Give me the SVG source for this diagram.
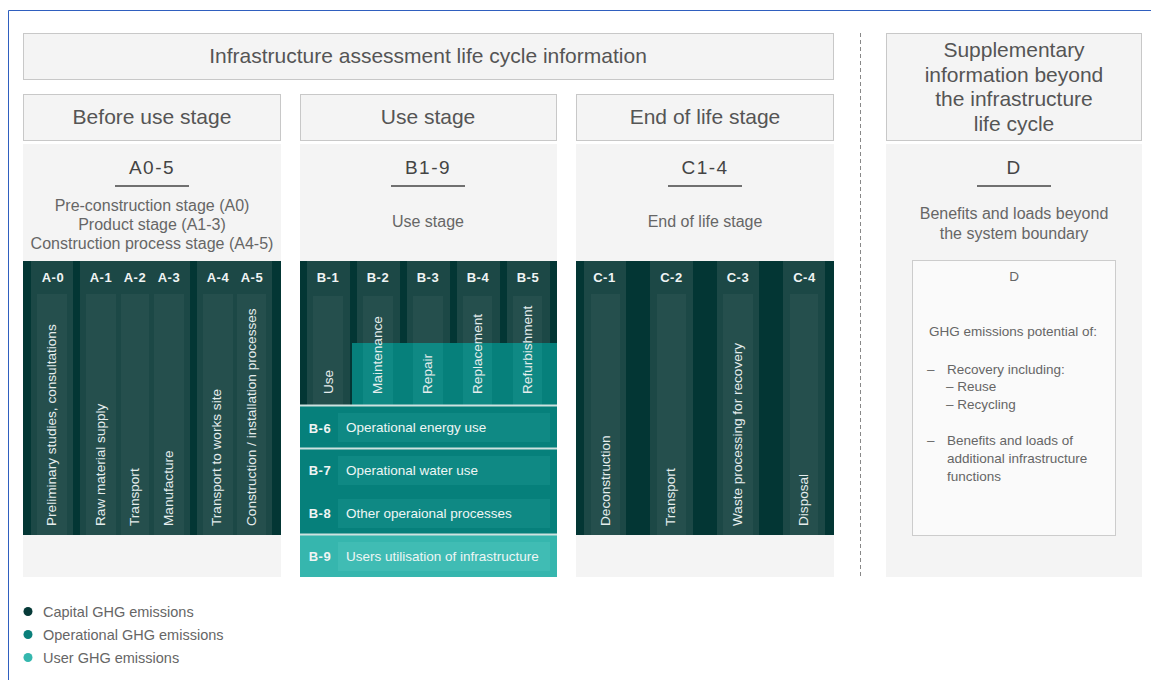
<svg xmlns="http://www.w3.org/2000/svg" width="1151" height="680" viewBox="0 0 1151 680">
<style>
text{font-family:"Liberation Sans",Arial,sans-serif}
.hdr{fill:#f4f4f4;stroke:#c8c8c8;stroke-width:1}
.ht{font-size:21px;fill:#555;text-anchor:middle}
.panel{fill:#f4f4f4}
.code{font-size:19px;fill:#444;text-anchor:middle;letter-spacing:1.5px}
.ul{stroke:#444;stroke-width:1.5}
.sub{font-size:16px;fill:#666;text-anchor:middle}
.dark{fill:#033634}
.col{fill:#1c4846}
.inn{fill:#254f4d}
.lab{font-size:13px;font-weight:bold;fill:#f0f4f4;text-anchor:middle;letter-spacing:0.6px}
.vt{font-size:13.6px;fill:#e6eded}
.teal{fill:#06807b}
.tinn{fill:#0f8984}
.lteal{fill:#36b6ae}
.ltinn{fill:#40bcb4}
.rt{font-size:13.5px;fill:#eef6f5}
.sep{stroke:#cde2e0;stroke-width:2}
.dt{font-size:13.5px;fill:#666}
.leg{font-size:14.5px;fill:#666}
</style>
<rect width="1151" height="680" fill="#ffffff"/>
<path d="M8.5,680 V10.5 H1151" fill="none" stroke="#2f5fbf" stroke-width="1"/>

<g id="header-main">
<rect class="hdr" x="23.5" y="33.5" width="810" height="46"/>
<text class="ht" x="428" y="63">Infrastructure assessment life cycle information</text>
</g>

<g id="divider">
<line x1="860.5" y1="33" x2="860.5" y2="577" stroke="#888" stroke-width="1" stroke-dasharray="4,3"/>
</g>

<g id="stage-A">
<rect class="hdr" x="23.5" y="94.5" width="257" height="46"/>
<text class="ht" x="152" y="124">Before use stage</text>
<rect class="panel" x="23" y="144" width="258" height="433"/>
<text class="code" x="152" y="174">A0-5</text>
<line class="ul" x1="115" y1="186" x2="189" y2="186"/>
<text class="sub" x="152" y="210.5">Pre-construction stage (A0)</text>
<text class="sub" x="152" y="229.5">Product stage (A1-3)</text>
<text class="sub" x="152" y="248.5">Construction process stage (A4-5)</text>
<rect class="dark" x="23" y="261" width="258" height="274"/>
<rect class="col" x="31" y="261" width="42" height="274"/>
<rect class="col" x="80" y="261" width="110" height="274"/>
<rect class="col" x="197" y="261" width="75" height="274"/>
<rect class="inn" x="37" y="294" width="30" height="241"/>
<rect class="inn" x="86" y="294" width="30" height="241"/>
<rect class="inn" x="121" y="294" width="28" height="241"/>
<rect class="inn" x="154" y="294" width="30" height="241"/>
<rect class="inn" x="203" y="294" width="30" height="241"/>
<rect class="inn" x="237" y="294" width="29" height="241"/>
<text class="lab" x="53" y="282">A-0</text>
<text class="lab" x="101" y="282">A-1</text>
<text class="lab" x="135" y="282">A-2</text>
<text class="lab" x="169" y="282">A-3</text>
<text class="lab" x="218" y="282">A-4</text>
<text class="lab" x="252" y="282">A-5</text>
<text class="vt" transform="translate(56.4,526) rotate(-90)">Preliminary studies, consultations</text>
<text class="vt" transform="translate(104.7,526) rotate(-90)">Raw material supply</text>
<text class="vt" transform="translate(139,526) rotate(-90)">Transport</text>
<text class="vt" transform="translate(173,526) rotate(-90)">Manufacture</text>
<text class="vt" transform="translate(221.4,526) rotate(-90)">Transport to works site</text>
<text class="vt" transform="translate(256.4,526) rotate(-90)">Construction / installation processes</text>
</g>

<g id="stage-B">
<rect class="hdr" x="300.5" y="94.5" width="256" height="46"/>
<text class="ht" x="428" y="124">Use stage</text>
<rect class="panel" x="300" y="144" width="257" height="433"/>
<text class="code" x="428" y="174">B1-9</text>
<line class="ul" x1="391" y1="186" x2="465" y2="186"/>
<text class="sub" x="428" y="226.5">Use stage</text>
<rect class="dark" x="300" y="261" width="257" height="145"/>
<rect class="col" x="307" y="261" width="43" height="145"/>
<rect class="col" x="357" y="261" width="43" height="145"/>
<rect class="col" x="407" y="261" width="43" height="145"/>
<rect class="col" x="457" y="261" width="43" height="145"/>
<rect class="col" x="507" y="261" width="43" height="145"/>
<rect class="inn" x="313" y="296" width="30" height="110"/>
<rect class="inn" x="363" y="296" width="30" height="110"/>
<rect class="inn" x="413" y="296" width="30" height="110"/>
<rect class="inn" x="463" y="296" width="29" height="110"/>
<rect class="inn" x="513" y="296" width="29" height="110"/>
<rect class="teal" x="352" y="343" width="205" height="63"/>
<rect class="tinn" x="363" y="343" width="30" height="63"/>
<rect class="tinn" x="413" y="343" width="30" height="63"/>
<rect class="tinn" x="463" y="343" width="29" height="63"/>
<rect class="tinn" x="513" y="343" width="29" height="63"/>
<text class="lab" x="328" y="282">B-1</text>
<text class="lab" x="378" y="282">B-2</text>
<text class="lab" x="428" y="282">B-3</text>
<text class="lab" x="478" y="282">B-4</text>
<text class="lab" x="528" y="282">B-5</text>
<text class="vt" transform="translate(333,394) rotate(-90)">Use</text>
<text class="vt" transform="translate(382.4,394) rotate(-90)">Maintenance</text>
<text class="vt" transform="translate(432.4,394) rotate(-90)">Repair</text>
<text class="vt" transform="translate(482.4,394) rotate(-90)">Replacement</text>
<text class="vt" transform="translate(532,394) rotate(-90)">Refurbishment</text>
<rect class="teal" x="300" y="406" width="257" height="129"/>
<rect class="tinn" x="338" y="413" width="212" height="29"/>
<rect class="tinn" x="338" y="456" width="212" height="29"/>
<rect class="tinn" x="338" y="499" width="212" height="29"/>
<rect class="lteal" x="300" y="535" width="257" height="42"/>
<rect class="ltinn" x="338" y="542" width="212" height="29"/>
<line class="sep" x1="300" y1="405.5" x2="557" y2="405.5"/>
<line class="sep" x1="300" y1="448.5" x2="557" y2="448.5"/>
<line class="sep" x1="300" y1="534.5" x2="557" y2="534.5"/>
<text class="lab" x="320" y="432.5">B-6</text>
<text class="rt" x="346" y="432">Operational energy use</text>
<text class="lab" x="320" y="475">B-7</text>
<text class="rt" x="346" y="474.5">Operational water use</text>
<text class="lab" x="320" y="518">B-8</text>
<text class="rt" x="346" y="517.5">Other operaional processes</text>
<text class="lab" x="320" y="561">B-9</text>
<text class="rt" x="346" y="560.5">Users utilisation of infrastructure</text>
</g>

<g id="stage-C">
<rect class="hdr" x="576.5" y="94.5" width="257" height="46"/>
<text class="ht" x="705" y="124">End of life stage</text>
<rect class="panel" x="576" y="144" width="258" height="433"/>
<text class="code" x="705" y="174">C1-4</text>
<line class="ul" x1="668" y1="186" x2="742" y2="186"/>
<text class="sub" x="705" y="226.5">End of life stage</text>
<rect class="dark" x="576" y="261" width="258" height="274"/>
<rect class="col" x="584" y="261" width="42" height="274"/>
<rect class="col" x="650" y="261" width="43" height="274"/>
<rect class="col" x="717" y="261" width="42" height="274"/>
<rect class="col" x="783" y="261" width="42" height="274"/>
<rect class="inn" x="591" y="294" width="29" height="241"/>
<rect class="inn" x="657" y="294" width="29" height="241"/>
<rect class="inn" x="723" y="294" width="30" height="241"/>
<rect class="inn" x="790" y="294" width="28" height="241"/>
<text class="lab" x="604.5" y="282">C-1</text>
<text class="lab" x="671.5" y="282">C-2</text>
<text class="lab" x="738" y="282">C-3</text>
<text class="lab" x="804.5" y="282">C-4</text>
<text class="vt" transform="translate(609.7,526) rotate(-90)">Deconstruction</text>
<text class="vt" transform="translate(675.4,526) rotate(-90)">Transport</text>
<text class="vt" transform="translate(742.4,526) rotate(-90)">Waste processing for recovery</text>
<text class="vt" transform="translate(808,526) rotate(-90)">Disposal</text>
</g>

<g id="stage-D">
<rect class="hdr" x="886.5" y="33.5" width="255" height="107"/>
<text class="ht" x="1014" y="57">Supplementary</text>
<text class="ht" x="1014" y="81.5">information beyond</text>
<text class="ht" x="1014" y="106">the infrastructure</text>
<text class="ht" x="1014" y="130.5">life cycle</text>
<rect class="panel" x="886" y="144" width="256" height="433"/>
<text class="code" x="1014" y="174">D</text>
<line class="ul" x1="977" y1="186" x2="1051" y2="186"/>
<text class="sub" x="1014" y="218.5">Benefits and loads beyond</text>
<text class="sub" x="1014" y="238.5">the system boundary</text>
<rect x="912.5" y="260.5" width="203" height="275" fill="#fafafa" stroke="#cccccc" stroke-width="1"/>
<text class="dt" x="1014" y="281" text-anchor="middle" font-size="12.5">D</text>
<text class="dt" x="1013" y="336" text-anchor="middle">GHG emissions potential of:</text>
<text class="dt" x="927" y="373.5">–</text>
<text class="dt" x="947" y="373.5">Recovery including:</text>
<text class="dt" x="946" y="391">– Reuse</text>
<text class="dt" x="946" y="409">– Recycling</text>
<text class="dt" x="927" y="445">–</text>
<text class="dt" x="947" y="445">Benefits and loads of</text>
<text class="dt" x="947" y="463">additional infrastructure</text>
<text class="dt" x="947" y="481">functions</text>
</g>

<g id="legend">
<circle cx="28" cy="611.5" r="4.5" fill="#063a38"/>
<text class="leg" x="43" y="616.5">Capital GHG emissions</text>
<circle cx="28" cy="634.5" r="4.5" fill="#0a7f7a"/>
<text class="leg" x="43" y="639.5">Operational GHG emissions</text>
<circle cx="28" cy="657.5" r="4.5" fill="#35b7ae"/>
<text class="leg" x="43" y="662.5">User GHG emissions</text>
</g>

<g id="connectors"></g>
</svg>
